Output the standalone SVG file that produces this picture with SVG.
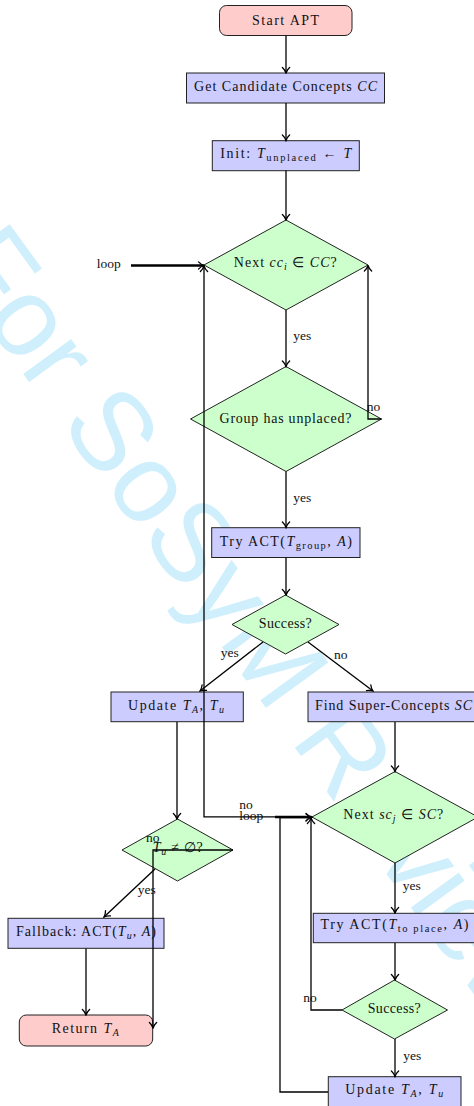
<svg xmlns="http://www.w3.org/2000/svg" width="474" height="1106" viewBox="0 0 474 1106">
<defs>
<style>
.term{fill:#ffcccc;stroke:#222;stroke-width:1}
.proc{fill:#ccccff;stroke:#222;stroke-width:1}
.dec{fill:#ccffcc;stroke:#222;stroke-width:1}
.t{font-family:"Liberation Serif","Times New Roman",serif;font-size:14px;fill:#111;text-anchor:middle}
.l{font-family:"Liberation Serif","Times New Roman",serif;font-size:13.5px;fill:#111}
.i{font-style:italic}
.wm{font-family:"Liberation Sans",Arial,sans-serif;font-size:112px;fill:#cfeffc}
</style>
<marker id="ah" viewBox="-7 -5 8 10" refX="0" refY="0" markerWidth="8" markerHeight="10" markerUnits="userSpaceOnUse" orient="auto">
<path d="M-5.5,-3.6 C-3.5,-1.4 -1.2,-0.4 0,0 C-1.2,0.4 -3.5,1.4 -5.5,3.6" fill="none" stroke="#000" stroke-width="1.3" stroke-linecap="round"/>
</marker>
</defs>
<rect width="474" height="1106" fill="#fff"/>
<text class="wm" transform="translate(-58,262) rotate(54)">For SoSyM Review</text>

<g id="start">
<rect class="term" x="219.5" y="5.5" width="132.5" height="30" rx="7"/>
<text class="t" x="285.5" y="25.3" textLength="67" lengthAdjust="spacing">Start APT</text>
</g>
<g id="getcc">
<rect class="proc" x="186.5" y="73" width="198" height="30"/>
<text class="t" x="285.5" y="91" textLength="183" lengthAdjust="spacing">Get Candidate Concepts <tspan class="i">CC</tspan></text>
</g>
<g id="init">
<rect class="proc" x="212.3" y="140.7" width="147" height="30"/>
<text class="t" x="285.7" y="157.5" textLength="131" lengthAdjust="spacing">Init: <tspan class="i">T</tspan><tspan font-size="10.5" dy="3">unplaced</tspan><tspan dy="-3"> ← </tspan><tspan class="i">T</tspan></text>
</g>
<g id="nextcc">
<polygon class="dec" points="286,220 368,265 286,310 204,265"/>
<text class="t" x="285.3" y="267" textLength="103" lengthAdjust="spacing">Next <tspan class="i">cc</tspan><tspan class="i" font-size="10" dy="3">i</tspan><tspan dy="-3"> ∈ </tspan><tspan class="i">CC</tspan>?</text>
</g>
<g id="group">
<polygon class="dec" points="286,366.5 381.5,419 286,471.5 190.5,419"/>
<text class="t" x="285.5" y="422.5" textLength="132" lengthAdjust="spacing">Group has unplaced?</text>
</g>
<g id="trygroup">
<rect class="proc" x="211.7" y="527.7" width="148.3" height="29.8"/>
<text class="t" x="285.8" y="545.5" textLength="132" lengthAdjust="spacing">Try ACT(<tspan class="i">T</tspan><tspan font-size="10.5" dy="3">group</tspan><tspan dy="-3">, </tspan><tspan class="i">A</tspan>)</text>
</g>
<g id="success1">
<polygon class="dec" points="285.5,595 339,624.5 285.5,654 232,624.5"/>
<text class="t" x="285.3" y="627.5" textLength="53" lengthAdjust="spacing">Success?</text>
</g>
<g id="update1">
<rect class="proc" x="111" y="692" width="132.3" height="29.7"/>
<text class="t" x="176" y="709.5" textLength="96" lengthAdjust="spacing">Update <tspan class="i">T</tspan><tspan class="i" font-size="10" dy="3">A</tspan><tspan dy="-3">, </tspan><tspan class="i">T</tspan><tspan class="i" font-size="10" dy="3">u</tspan></text>
</g>
<g id="findsc">
<rect class="proc" x="308" y="692" width="173" height="29.7"/>
<text class="t" x="393.5" y="709.5" textLength="157" lengthAdjust="spacing">Find Super-Concepts <tspan class="i">SC</tspan></text>
</g>
<g id="nextsc">
<polygon class="dec" points="395,771.5 478,817 395,863 312,817"/>
<text class="t" x="393.3" y="818.5" textLength="100" lengthAdjust="spacing">Next <tspan class="i">sc</tspan><tspan class="i" font-size="10" dy="3">j</tspan><tspan dy="-3"> ∈ </tspan><tspan class="i">SC</tspan>?</text>
</g>
<g id="trytoplace">
<rect class="proc" x="313.3" y="913.3" width="165" height="29.4"/>
<text class="t" x="394.5" y="929.3" textLength="148" lengthAdjust="spacing">Try ACT(<tspan class="i">T</tspan><tspan font-size="10.5" dy="3">to place</tspan><tspan dy="-3">, </tspan><tspan class="i">A</tspan>)</text>
</g>
<g id="success2">
<polygon class="dec" points="394.5,980 447.5,1010 394.5,1039 342,1010"/>
<text class="t" x="394.2" y="1013.3" textLength="53" lengthAdjust="spacing">Success?</text>
</g>
<g id="update2">
<rect class="proc" x="328.3" y="1076.7" width="132.7" height="30"/>
<text class="t" x="394.2" y="1094" textLength="98" lengthAdjust="spacing">Update <tspan class="i">T</tspan><tspan class="i" font-size="10" dy="3">A</tspan><tspan dy="-3">, </tspan><tspan class="i">T</tspan><tspan class="i" font-size="10" dy="3">u</tspan></text>
</g>
<g id="tunotempty">
<polygon class="dec" points="177.5,819 233,850 177.5,881 122,850"/>
<text class="t" x="177.7" y="852.3" textLength="50" lengthAdjust="spacing"><tspan class="i">T</tspan><tspan class="i" font-size="10" dy="3">u</tspan><tspan dy="-3"> ≠ ∅?</tspan></text>
</g>
<g id="fallback">
<rect class="proc" x="8" y="918.3" width="156" height="30"/>
<text class="t" x="86" y="936" textLength="140" lengthAdjust="spacing">Fallback: ACT(<tspan class="i">T</tspan><tspan class="i" font-size="10" dy="3">u</tspan><tspan dy="-3">, </tspan><tspan class="i">A</tspan>)</text>
</g>
<g id="return">
<rect class="term" x="19.3" y="1015" width="133.4" height="31" rx="7"/>
<text class="t" x="85.3" y="1033.3" textLength="67" lengthAdjust="spacing">Return <tspan class="i">T</tspan><tspan class="i" font-size="10" dy="3">A</tspan></text>
</g>

<g id="connectors" fill="none" stroke="#000" stroke-width="1.3">
<path d="M286,35.5 V73" marker-end="url(#ah)"/>
<path d="M286,103 V140.5" marker-end="url(#ah)"/>
<path d="M286,170.5 V220" marker-end="url(#ah)"/>
<path d="M286,310 V366.5" marker-end="url(#ah)"/>
<path d="M381.5,419 H368 V265.5" marker-end="url(#ah)"/>
<path d="M286,471.5 V527.5" marker-end="url(#ah)"/>
<path d="M286,557.5 V595" marker-end="url(#ah)"/>
<path d="M263,642 L200,691" marker-end="url(#ah)"/>
<path d="M308,642 L373,691" marker-end="url(#ah)"/>
<path d="M177,722 V819" marker-end="url(#ah)"/>
<path d="M395,722 V771.5" marker-end="url(#ah)"/>
<path d="M395,863 V913" marker-end="url(#ah)"/>
<path d="M395,943 V980" marker-end="url(#ah)"/>
<path d="M395,1039 V1076.5" marker-end="url(#ah)"/>
<path d="M342,1010 H311 V818" marker-end="url(#ah)"/>
<path d="M328,1092 H280 V817.5 H311.5" marker-end="url(#ah)"/>
<path d="M312,816.8 H204 V266" marker-end="url(#ah)"/>
<path d="M131,265.5 H204" stroke-width="2.3" marker-end="url(#ah)"/>
<path d="M275,817 H311.5" stroke-width="2.3" marker-end="url(#ah)"/>
<path d="M233,850 H153 V1028" marker-end="url(#ah)"/>
<path d="M155,869 L104,917" marker-end="url(#ah)"/>
<path d="M86,948.5 V1015" marker-end="url(#ah)"/>
</g>

<g id="labels">
<text class="l" x="96.7" y="268">loop</text>
<text class="l" x="293.3" y="339.5">yes</text>
<text class="l" x="366.7" y="411">no</text>
<text class="l" x="293.3" y="502">yes</text>
<text class="l" x="220.7" y="656.5">yes</text>
<text class="l" x="334" y="659">no</text>
<text class="l" x="239.3" y="809">no</text>
<text class="l" x="239.3" y="820">loop</text>
<text class="l" x="146" y="842.3">no</text>
<text class="l" x="137.7" y="894">yes</text>
<text class="l" x="402.7" y="890">yes</text>
<text class="l" x="303.3" y="1001.7">no</text>
<text class="l" x="403.3" y="1060">yes</text>
</g>
</svg>
